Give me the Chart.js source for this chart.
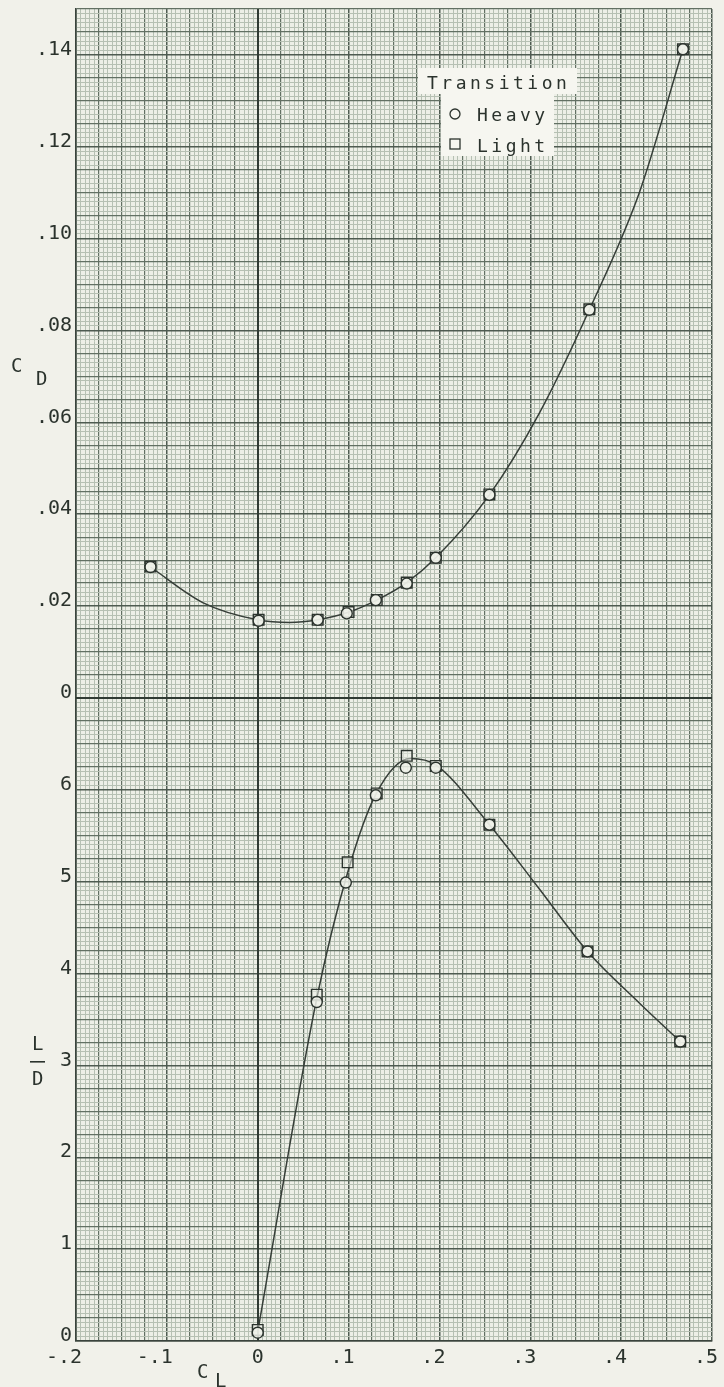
<!DOCTYPE html>
<html><head><meta charset="utf-8">
<script src="https://cdn.jsdelivr.net/npm/chart.js@4/dist/chart.umd.min.js"></script>
<style>html,body{margin:0;padding:0;background:#f1f1ea;} canvas{display:block;}</style>
</head><body>
<canvas id="c" width="724" height="1387" style="width:724px;height:1387px"></canvas>
<script>
// ---- tick labels ----
const xTickValues = [-0.2, -0.1, 0, 0.1, 0.2, 0.3, 0.4, 0.5];
const xTickLabels = ['-.2', '-.1', '0', '.1', '.2', '.3', '.4', '.5'];
const cdTickValues = [0, 0.02, 0.04, 0.06, 0.08, 0.10, 0.12, 0.14];
const cdTickLabels = ['0', '.02', '.04', '.06', '.08', '.10', '.12', '.14'];
const ldTickValues = [0, 1, 2, 3, 4, 5, 6];
const ldTickLabels = ['0', '1', '2', '3', '4', '5', '6'];

// ---- C_D vs C_L ----
const cdHeavyCL = [-0.118, 0.001, 0.066, 0.098, 0.130, 0.164, 0.196, 0.255, 0.365, 0.468];
const cdHeavy   = [0.0285, 0.0168, 0.0170, 0.0184, 0.0213, 0.0249, 0.0305, 0.0442, 0.0845, 0.1412];
const cdLightCL = [-0.118, 0.001, 0.066, 0.100, 0.131, 0.164, 0.196, 0.255, 0.365, 0.468];
const cdLight   = [0.0286, 0.0170, 0.0170, 0.0187, 0.0213, 0.0251, 0.0305, 0.0443, 0.0846, 0.1412];
const cdCurveCL = [-0.118, -0.06, 0.0, 0.035, 0.066, 0.099, 0.131, 0.164, 0.196, 0.255, 0.31, 0.365, 0.42, 0.468];
const cdCurve   = [0.0285, 0.0207, 0.0170, 0.0164, 0.0170, 0.0186, 0.0213, 0.0251, 0.0305, 0.0442, 0.0620, 0.0845, 0.1100, 0.1412];

// ---- L/D vs C_L ----
const ldHeavyCL = [0.0, 0.065, 0.097, 0.130, 0.163, 0.196, 0.255, 0.363, 0.465];
const ldHeavy   = [0.09, 3.69, 4.99, 5.94, 6.24, 6.24, 5.62, 4.24, 3.26];
const ldLightCL = [0.0, 0.065, 0.099, 0.131, 0.164, 0.196, 0.255, 0.363, 0.465];
const ldLight   = [0.12, 3.77, 5.21, 5.96, 6.37, 6.26, 5.62, 4.24, 3.26];
const ldCurveCL = [0.0, 0.065, 0.099, 0.130, 0.168, 0.196, 0.255, 0.31, 0.363, 0.42, 0.465];
const ldCurve   = [0.10, 3.73, 5.10, 5.95, 6.34, 6.27, 5.62, 4.92, 4.24, 3.68, 3.26];

const INK = '#2b332d';
const PLOT_BG = '#edefe7';
const FONT = '"DejaVu Sans Mono", monospace';

const pts = (xs, ys) => xs.map((x, i) => ({x, y: ys[i]}));
const lookup = (v, vals, labels) => {
  for (let i = 0; i < vals.length; i++) if (Math.abs(v - vals[i]) < 1e-7) return labels[i];
  return '';
};
function gridFor(step, medEvery, majEvery) {
  const level = ctx => {
    if (!ctx.tick) return 1;
    const n = Math.round(ctx.tick.value / step);
    if (n % majEvery === 0) return 2;
    if (n % medEvery === 0) return 1;
    return 0;
  };
  return {
    drawTicks: false,
    color: ctx => ['#b6c0b3', '#627063', '#4e5b51'][level(ctx)],
    lineWidth: ctx => [1, 1.2, 1.5][level(ctx)]
  };
}

const overlay = {
  id: 'overlay',
  beforeDraw(chart) {
    const {ctx, chartArea: a} = chart;
    ctx.save();
    ctx.fillStyle = PLOT_BG;
    ctx.fillRect(a.left, a.top, a.width, a.height);
    ctx.restore();
  },
  beforeDatasetsDraw(chart) {
    // heavier reference lines: C_L = 0 and C_D = 0
    const {ctx, chartArea: a, scales} = chart;
    ctx.save();
    ctx.strokeStyle = '#313b34';
    ctx.lineWidth = 2;
    const x0 = Math.round(scales.x.getPixelForValue(0));
    ctx.beginPath(); ctx.moveTo(x0, a.top); ctx.lineTo(x0, a.bottom); ctx.stroke();
    const y0 = Math.round(scales.cd.getPixelForValue(0));
    ctx.beginPath(); ctx.moveTo(a.left, y0); ctx.lineTo(a.right, y0); ctx.stroke();
    ctx.restore();
  },
  afterDraw(chart) {
    const ctx = chart.ctx;
    ctx.save();
    // legend
    ctx.fillStyle = '#f6f6f0';
    ctx.fillRect(418, 68, 159, 26);
    ctx.fillRect(441, 94, 113, 62);
    ctx.fillStyle = INK;
    ctx.font = '18px ' + FONT;
    try { ctx.letterSpacing = '3.5px'; } catch (e) {}
    ctx.textBaseline = 'alphabetic';
    ctx.textAlign = 'left';
    ctx.fillText('Transition', 427, 89);
    ctx.fillText('Heavy', 477, 121);
    ctx.fillText('Light', 477, 152);
    ctx.strokeStyle = INK;
    ctx.lineWidth = 1.3;
    ctx.beginPath(); ctx.arc(455, 114, 5, 0, 2 * Math.PI); ctx.stroke();
    ctx.strokeRect(450, 139, 10, 10);
    // axis titles
    try { ctx.letterSpacing = '0px'; } catch (e) {}
    ctx.font = '19px ' + FONT;
    ctx.fillText('C', 11, 372);
    ctx.fillText('D', 36, 385);
    ctx.fillText('L', 32, 1050);
    ctx.fillRect(30, 1061, 15, 1.6);
    ctx.fillText('D', 32, 1085);
    ctx.fillText('C', 197, 1378);
    ctx.fillText('L', 215, 1387);
    ctx.restore();
  }
};

const tickFont = {family: FONT, size: 20};

new Chart(document.getElementById('c'), {
  type: 'scatter',
  data: {
    datasets: [
      {label: 'Heavy', data: pts(cdHeavyCL, cdHeavy), yAxisID: 'cd', pointStyle: 'circle', pointRadius: 5.5,
       pointBorderColor: INK, pointBackgroundColor: 'rgba(240,242,234,0.85)', pointBorderWidth: 1.4, showLine: false},
      {label: 'Light', data: pts(cdLightCL, cdLight), yAxisID: 'cd', pointStyle: 'rect', pointRadius: 7.5,
       pointBorderColor: INK, pointBackgroundColor: 'rgba(240,242,234,0.5)', pointBorderWidth: 1.4, showLine: false},
      {label: 'Heavy', data: pts(ldHeavyCL, ldHeavy), yAxisID: 'ld', pointStyle: 'circle', pointRadius: 5.5,
       pointBorderColor: INK, pointBackgroundColor: 'rgba(240,242,234,0.85)', pointBorderWidth: 1.4, showLine: false},
      {label: 'Light', data: pts(ldLightCL, ldLight), yAxisID: 'ld', pointStyle: 'rect', pointRadius: 7.5,
       pointBorderColor: INK, pointBackgroundColor: 'rgba(240,242,234,0.5)', pointBorderWidth: 1.4, showLine: false},
      {label: 'CD curve', data: pts(cdCurveCL, cdCurve), yAxisID: 'cd', showLine: true, pointRadius: 0,
       borderColor: '#363e38', borderWidth: 1.5, cubicInterpolationMode: 'monotone', fill: false},
      {label: 'LD curve', data: pts(ldCurveCL, ldCurve), yAxisID: 'ld', showLine: true, pointRadius: 0,
       borderColor: '#363e38', borderWidth: 1.5, cubicInterpolationMode: 'monotone', fill: false}
    ]
  },
  options: {
    responsive: false,
    animation: false,
    devicePixelRatio: 1,
    events: [],
    layout: {padding: {left: 0, right: 12, top: 7, bottom: 0}},
    plugins: {legend: {display: false}, tooltip: {enabled: false}},
    scales: {
      x: {
        type: 'linear', position: 'bottom', min: -0.2, max: 0.5,
        ticks: {stepSize: 0.005, autoSkip: false, maxRotation: 0, minRotation: 0, align: 'end', labelOffset: 6,
                padding: 5, color: INK, font: tickFont, callback: v => lookup(v, xTickValues, xTickLabels)},
        grid: gridFor(0.005, 5, 20),
        border: {display: true, color: '#3a443d', width: 1.6},
        afterFit(s) { s.height = 46; s.paddingLeft = 0; s.paddingRight = 0; }
      },
      ld: {
        type: 'linear', position: 'left', stack: 'main', stackWeight: 7, min: 0, max: 7,
        ticks: {stepSize: 0.05, autoSkip: false, padding: 4, labelOffset: -5, color: INK, font: tickFont,
                callback: v => lookup(v, ldTickValues, ldTickLabels)},
        grid: gridFor(0.05, 5, 20),
        border: {display: true, color: '#3a443d', width: 1.6},
        afterFit(s) { s.width = 76; s.paddingTop = 0; s.paddingBottom = 0; }
      },
      cd: {
        type: 'linear', position: 'left', stack: 'main', stackWeight: 7.5, min: 0, max: 0.15,
        ticks: {stepSize: 0.001, autoSkip: false, padding: 4, labelOffset: -5, color: INK, font: tickFont,
                callback: v => lookup(v, cdTickValues, cdTickLabels)},
        grid: gridFor(0.001, 5, 20),
        border: {display: true, color: '#3a443d', width: 1.6},
        afterFit(s) { s.width = 76; s.paddingTop = 0; s.paddingBottom = 0; }
      }
    }
  },
  plugins: [overlay]
});
</script>
</body></html>
